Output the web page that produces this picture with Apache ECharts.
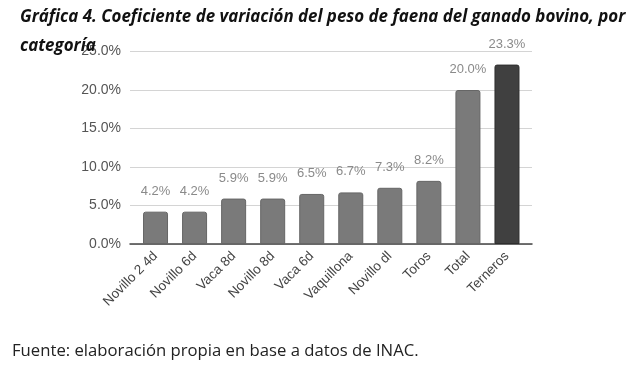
<!DOCTYPE html>
<html><head><meta charset="utf-8">
<script src="https://cdn.jsdelivr.net/npm/echarts@6/dist/echarts.min.js"></script>
<style>html,body{margin:0;padding:0;background:#fff}#c{width:638px;height:379px}</style>
</head><body><div id="c"></div>
<script>
const categories = ['Novillo 2 4d','Novillo 6d','Vaca 8d','Novillo 8d','Vaca 6d','Vaquillona','Novillo dl','Toros','Total','Terneros'];
const values = [4.2, 4.2, 5.9, 5.9, 6.5, 6.7, 7.3, 8.2, 20.0, 23.3];
const highlight = 'Terneros';
const titleText = 'Gráfica 4. Coeficiente de variación del peso de faena del ganado bovino, por\ncategoría';
const sourceText = 'Fuente: elaboración propia en base a datos de INAC.';

const chart = echarts.init(document.getElementById('c'), null, {renderer:'canvas'});
const barData = values.map((v,i)=>({
  value:v,
  itemStyle: categories[i]===highlight ? {color:'#404040', borderColor:'#2e2e2e'} : {color:'#7a7a7a', borderColor:'#666'}
}));
chart.setOption({
  animation:false,
  title:[{
    text:titleText, left:20, top:3, padding:0,
    textStyle:{fontFamily:'Open Sans', fontStyle:'italic', fontWeight:'bold', fontSize:16.9, lineHeight:29, color:'#111'}
  },{
    text:sourceText, left:12, top:343, padding:0,
    textStyle:{fontFamily:'Open Sans', fontWeight:'normal', fontSize:16.7, color:'#222'}
  }],
  grid:[
    {left:130, right:106, top:51.5, bottom:135},
    {left:136, right:111.5, top:51.5, bottom:135}
  ],
  xAxis:[
    {gridIndex:0, type:'category', data:categories, axisLabel:{show:false}, axisTick:{show:false},
     axisLine:{lineStyle:{color:'#444', width:1.5}}},
    {gridIndex:1, type:'category', data:categories, axisTick:{show:false}, axisLine:{show:false},
     axisLabel:{rotate:45, interval:0, fontFamily:'Liberation Sans', fontSize:13.5, color:'#444', margin:10}}
  ],
  yAxis:[
    {gridIndex:0, type:'value', min:0, max:25, interval:5,
     axisLabel:{formatter:v=>v.toFixed(1)+'%', fontFamily:'Liberation Sans', fontSize:14, color:'#555', margin:9},
     splitLine:{lineStyle:{color:'#d4d4d4', width:1}}, axisLine:{show:false}, axisTick:{show:false}},
    {gridIndex:1, type:'value', min:0, max:25, interval:5, show:false, splitLine:{show:false}}
  ],
  series:[{
    type:'bar', xAxisIndex:1, yAxisIndex:1, data:barData, barWidth:25,
    itemStyle:{borderWidth:1, borderRadius:[2,2,0,0]},
    label:{show:true, position:'top', distance:14, formatter:p=>p.value.toFixed(1)+'%',
      fontFamily:'Liberation Sans', fontSize:13, color:'#8a8a8a'}
  }]
});
</script></body></html>
